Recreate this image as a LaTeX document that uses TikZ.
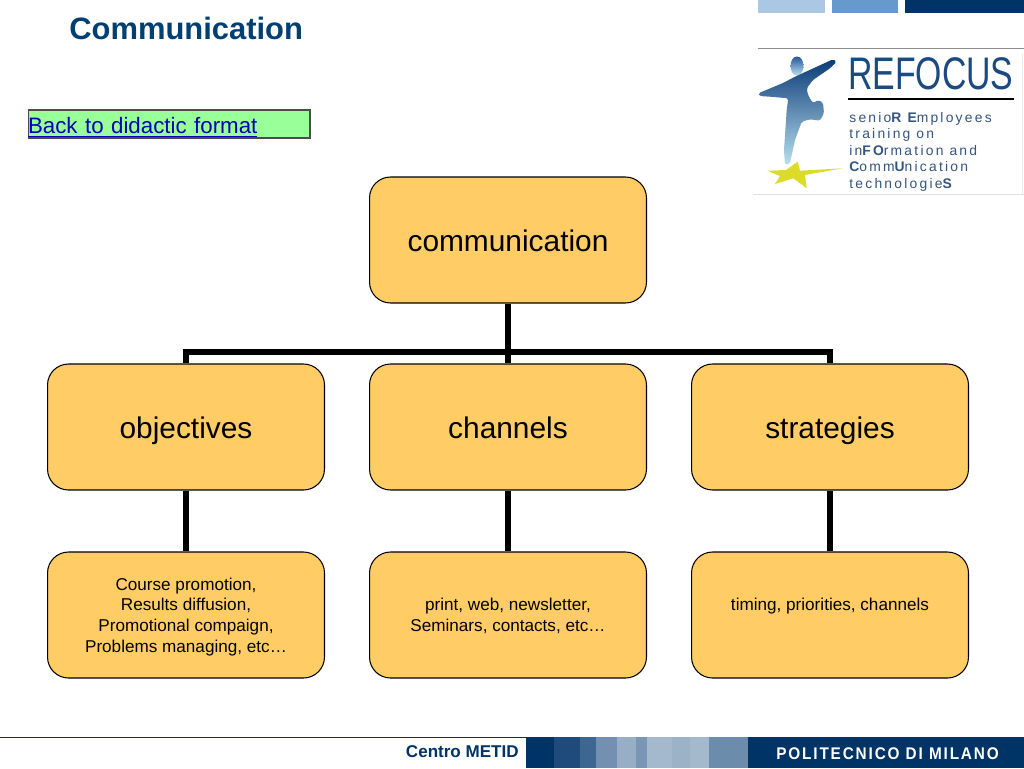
\documentclass[tikz,border=0pt]{standalone}
\usepackage{fontspec}
\setmainfont{Liberation Sans}
\newfontfamily\logofont[LetterSpace=16]{Liberation Sans}
\newfontfamily\footfont[LetterSpace=12]{Liberation Sans}
\definecolor{navy}{HTML}{003366}
\definecolor{titleblue}{HTML}{003F72}
\definecolor{boxorange}{HTML}{FFCC66}
\definecolor{linkgreen}{HTML}{99FF99}
\definecolor{linkblue}{HTML}{0000B4}
\definecolor{logoblue}{HTML}{1A4A80}
\definecolor{logotext}{HTML}{34557F}
\definecolor{figtop}{HTML}{0B3B78}
\definecolor{figmid}{HTML}{28589A}
\definecolor{figlow}{HTML}{B8E0EE}
\definecolor{staryellow}{HTML}{DCDC28}
\begin{document}
\begin{tikzpicture}[x=0.02cm, y=-0.02cm,
	bigbox/.style={draw=black, line width=0.6pt, fill=boxorange, rounded corners=0.42cm, minimum width=5.54cm, minimum height=2.52cm, inner sep=0pt, align=center},
	topbox/.style={bigbox, font=\fontsize{17}{20}\selectfont, text height=17pt, text depth=3.6pt},
	textbox/.style={bigbox, font=\fontsize{9.75}{11.7}\selectfont, text depth=0pt},
	link/.style={draw=black, line width=3.7pt},
	logoline/.style={anchor=base west, inner sep=0pt, text=logotext, font=\fontsize{7.9}{8}\logofont}]
	\useasboundingbox (0,0) rectangle (1024,768);
	% top bars
	\fill[fill=white] (0,0) rectangle (1024,768);
	\fill[fill={rgb,255:red,170;green,200;blue,228}] (758,0) rectangle (825,13);
	\fill[fill={rgb,255:red,102;green,153;blue,204}] (832,0) rectangle (898,13);
	\fill[navy] (905,0) rectangle (1024,13);
	\node[anchor=west, inner sep=0pt, text=titleblue, font=\fontsize{17.6}{20}\selectfont\bfseries] (title) at (69,28) {Communication};
	\node[draw=black!70, line width=0.6pt, fill=linkgreen, minimum width=5.64cm, minimum height=0.56cm, inner sep=0pt, text width=5.64cm, text height=12pt, text depth=1pt, align=left, text=linkblue, font=\fontsize{12.7}{14}\selectfont] (backlink) at (169,124) {\underline{Back to didactic format}};
	% logo
	\draw[black!45, line width=0.5pt] (758,48) -- (1024,48);
	\draw[black!12, line width=0.5pt] (753,194) -- (1024,194);
	\draw[black!8, line width=0.5pt] (1022,54) -- (1022,194);
	\shade[top color=figmid, bottom color=figlow] (797,66) ellipse (6.5 and 9.5);
	\shade[top color=figtop, middle color=figmid, bottom color=figlow, rounded corners=1pt] (758.3,93.3) -- (783,83) -- (795,76.7) -- (833,59.3) -- (836.7,61.7) -- (830,68.3) -- (813,80) -- (806.7,88.3) -- (808,95) -- (813,103.3) -- (818,100) -- (823,102.7) -- (824,113.3) -- (820,120.7) -- (810,119.3) -- (801.7,121.7) -- (795,140) -- (790,163.3) -- (785,165) -- (784,150) -- (786.7,110) -- (788.3,98.3) -- (770,96.7) -- (759.3,96) -- cycle;
	\fill[staryellow] (842.7,168.3) -- (805,175) -- (806.7,188.3) -- (793.3,178.3) -- (775,184) -- (780,176) -- (767.3,170.7) -- (786,170) -- (797.7,161.7) -- (800,170.7) -- cycle;
	\node[anchor=west, inner sep=0pt, text=logoblue, font=\fontsize{26}{28}\selectfont, xscale=0.74] (refocus) at (848,74) {REFOCUS};
	\draw[black, line width=1.7pt] (848,99) -- (1014,99);
	\node[logoline] (line1) at (849,122) {senio{\bfseries R} {\bfseries E}mployees};
	\node[logoline] (line2) at (849,138) {training on};
	\node[logoline] (line3) at (849,155) {in{\bfseries FO}rmation and};
	\node[logoline] (line4) at (849,171) {{\bfseries C}omm{\bfseries U}nication};
	\node[logoline] (line5) at (849,188) {technologie{\bfseries S}};
	% boxes
	\node[topbox] (communication) at (508,240) {communication};
	\node[topbox] (objectives) at (186,427) {objectives};
	\node[topbox] (channels) at (508,427) {channels};
	\node[topbox] (strategies) at (830,427) {strategies};
	\node[textbox] (promotion) at (186,615) {Course promotion,\\Results diffusion,\\Promotional compaign,\\Problems managing, etc…};
	\node[textbox] (media) at (508,615) {print, web, newsletter,\\Seminars, contacts, etc…};
	\node[textbox] (timing) at (830,615) {timing, priorities, channels\\~};
	% connectors
	\coordinate (bus) at (508,352);
	\draw[link] (communication.south) -- (channels.north);
	\draw[link] (objectives.north) |- (bus) -| (strategies.north);
	\draw[link] (objectives.south) -- (promotion.north);
	\draw[link] (channels.south) -- (media.north);
	\draw[link] (strategies.south) -- (timing.north);
	% footer
	\draw[navy, line width=0.6pt] (0,737.5) -- (526,737.5);
	\fill[navy] (526,737) rectangle (1024,768);
	\foreach \xa/\xb/\col in {554/580/1F4A7C, 580/596/3D6690, 596/617/7490B0, 617/636/98AEC6, 636/647/7A96B4, 647/672/A5B9CC, 672/690/9CB2C6, 690/709/A5B9CC, 709/748/6C8CAC} {
		\definecolor{stripe}{HTML}{\col}
		\fill[stripe] (\xa,737) rectangle (\xb,768);
	}
	\node[anchor=east, inner sep=0pt, text=navy, font=\fontsize{9.7}{11}\selectfont\bfseries] (metid) at (519,752) {Centro METID};
	\node[anchor=base west, inner sep=0pt, text=white, font=\fontsize{9.6}{11}\footfont\bfseries, xscale=0.91] (polimi) at (776,759) {POLITECNICO DI MILANO};
\end{tikzpicture}
\end{document}
